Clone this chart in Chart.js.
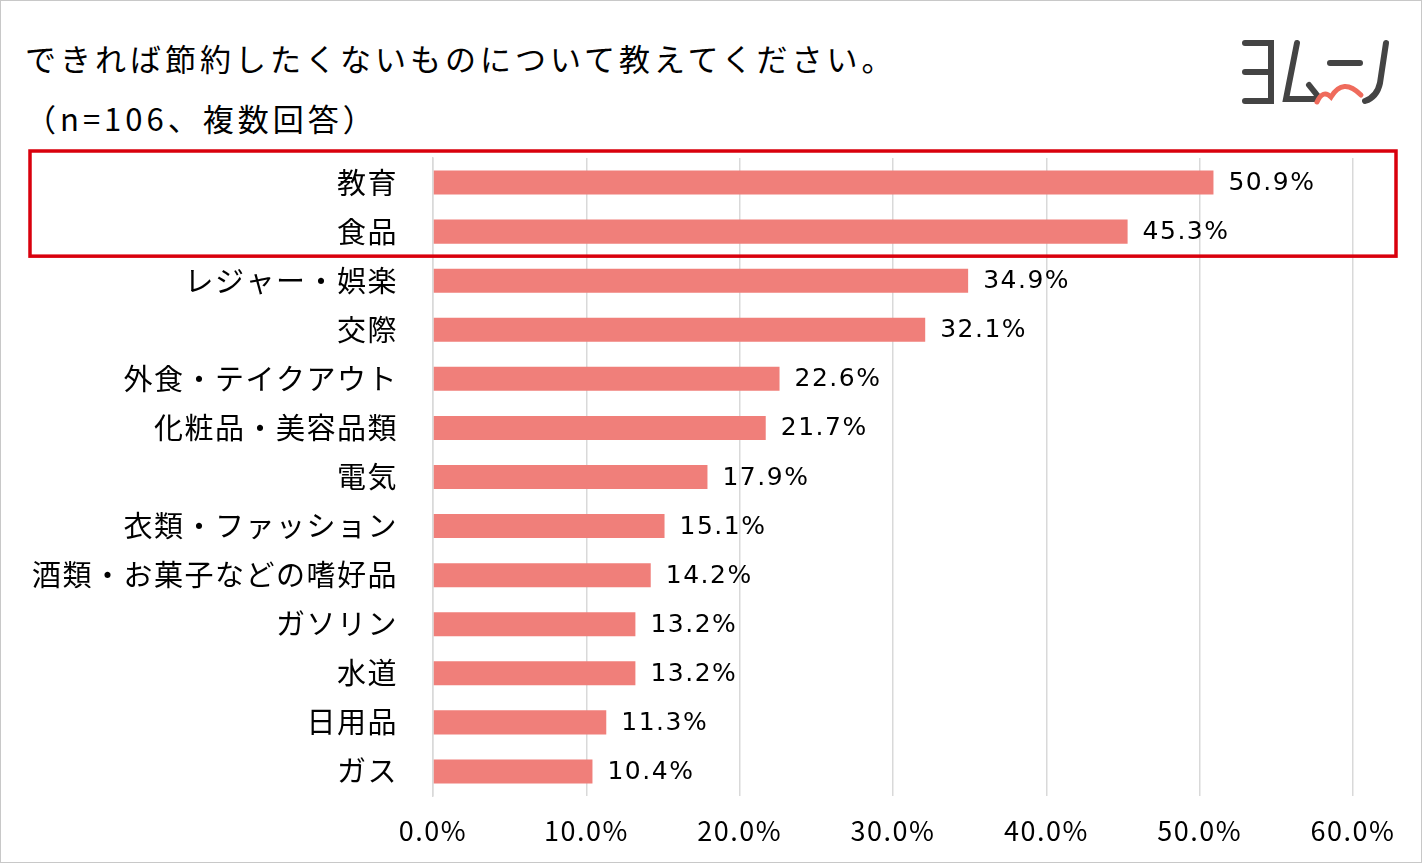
<!DOCTYPE html>
<html lang="ja">
<head>
<meta charset="UTF-8">
<title>できれば節約したくないもの</title>
<style>
    body {
        margin: 0;
        background: #fff;
    }

    #wrap {
        position: relative;
        width: 1420px;
        height: 861px;
        border: 1px solid #c8c8c8;
        font-family: "Noto Sans CJK JP", sans-serif;
        overflow: hidden;
    }

    .title {
        position: absolute;
        left: 24px;
        font-size: 31px;
        letter-spacing: 4px;
        color: #000;
        white-space: nowrap;
        line-height: 1;
    }

    #logo {
        position: absolute;
        left: 1238px;
        top: 34px;
    }

    #chart-box {
        position: absolute;
        left: 0;
        top: 0;
        width: 1422px;
        height: 863px;
    }
</style>
</head>
<body>
<div id="wrap">
    <div class="title" style="top: 41px;">できれば節約したくないものについて教えてください。</div>
    <div class="title" style="top: 101px;">（n=106、複数回答）</div>

    <svg id="logo" width="160" height="74" viewBox="0 0 160 74">
        <g fill="none" stroke="#444" stroke-width="6" stroke-linecap="round">
            <polyline points="6,8 32,8 32,66 6,66" />
            <line x1="6" y1="37" x2="30" y2="37" />
            <polyline points="58,8 47,64 78,64" />
            <line x1="70" y1="50" x2="78" y2="60" />
            <line x1="91" y1="28" x2="121" y2="28" />
            <path d="M147 8 L141 48 Q138 62 126 66" />
        </g>
        <path d="M78 67 Q84 54 92 62 Q104 42 122 60" fill="none" stroke="#ef6b5c" stroke-width="5" stroke-linecap="round" />
    </svg>

    <div id="chart-box">
        <canvas id="savings-chart"></canvas>
    </div>
</div>

<script src="https://cdn.jsdelivr.net/npm/chart.js"></script>
<script>
    const categories = ['教育', '食品', 'レジャー・娯楽', '交際', '外食・テイクアウト', '化粧品・美容品類', '電気',
        '衣類・ファッション', '酒類・お菓子などの嗜好品', 'ガソリン', '水道', '日用品', 'ガス'];
    const percentValues = [50.9, 45.3, 34.9, 32.1, 22.6, 21.7, 17.9, 15.1, 14.2, 13.2, 13.2, 11.3, 10.4];
    const tickValues = [0, 10, 20, 30, 40, 50, 60];
    const highlighted = ['教育', '食品'];

    // wider text like the original
    const spacing = {
        id: 'spacing',
        beforeDraw(chart) {
            chart.ctx.letterSpacing = '1.5px';
        }
    };

    // value labels to the right of each bar
    const valueLabels = {
        id: 'valueLabels',
        afterDatasetsDraw(chart) {
            const ctx = chart.ctx;
            const meta = chart.getDatasetMeta(0);
            ctx.save();
            ctx.font = '25px "DejaVu Sans", sans-serif';
            ctx.fillStyle = '#000';
            ctx.textAlign = 'left';
            ctx.textBaseline = 'middle';
            meta.data.forEach((bar, i) => {
                ctx.fillText(percentValues[i].toFixed(1) + '%', bar.x + 15, bar.y + 1);
            });
            ctx.restore();
        }
    };

    // red frame around the highlighted rows
    const highlightBox = {
        id: 'highlightBox',
        afterDraw(chart) {
            const y = chart.scales.y;
            const first = categories.indexOf(highlighted[0]);
            const last = categories.indexOf(highlighted[highlighted.length - 1]);
            const half = (y.getPixelForValue(1) - y.getPixelForValue(0)) / 2;
            const top = y.getPixelForValue(first) - half - 7;
            const bottom = y.getPixelForValue(last) + half;
            const ctx = chart.ctx;
            ctx.save();
            ctx.strokeStyle = '#d9000d';
            ctx.lineWidth = 3.5;
            ctx.strokeRect(29, top, 1366, bottom - top);
            ctx.restore();
        }
    };

    const ctx = document.getElementById('savings-chart').getContext('2d');
    const savingsChart = new Chart(ctx, {
        type: 'bar',
        data: {
            labels: categories,
            datasets: [{
                data: percentValues,
                backgroundColor: '#f07f7a',
                barPercentage: 0.98,
                categoryPercentage: 0.5
            }]
        },
        plugins: [spacing, valueLabels, highlightBox],
        options: {
            indexAxis: 'y',
            responsive: true,
            maintainAspectRatio: false,
            animation: false,
            layout: {
                padding: { top: 157, right: 70, bottom: 0, left: 0 }
            },
            plugins: {
                legend: { display: false },
                tooltip: { enabled: false }
            },
            scales: {
                x: {
                    min: 0,
                    max: 60,
                    afterBuildTicks: (scale) => {
                        scale.ticks = tickValues.map(v => ({ value: v }));
                    },
                    afterFit: (scale) => {
                        scale.height = 68;
                    },
                    grid: {
                        color: '#d9d9d9',
                        lineWidth: 1.5,
                        drawTicks: false
                    },
                    border: { display: false },
                    ticks: {
                        padding: 19,
                        color: '#000',
                        font: { family: '"Noto Sans CJK JP", sans-serif', size: 27 },
                        callback: (v) => v.toFixed(1) + '%'
                    }
                },
                y: {
                    afterFit: (scale) => {
                        scale.width = 432;
                    },
                    grid: { display: false, drawTicks: false },
                    border: { display: true, color: '#d9d9d9', width: 1.5 },
                    ticks: {
                        padding: 35,
                        color: '#000',
                        font: { family: '"Noto Sans CJK JP", sans-serif', size: 29 }
                    }
                }
            }
        }
    });
</script>
</body>
</html>
